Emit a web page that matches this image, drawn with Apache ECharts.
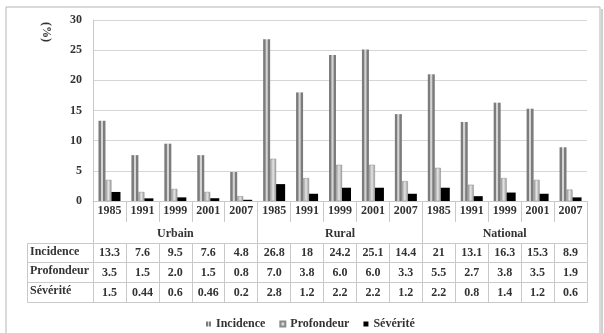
<!DOCTYPE html>
<html>
<head>
<meta charset="utf-8">
<script src="https://cdn.jsdelivr.net/npm/echarts@6/dist/echarts.min.js"></script>
<style>
    html, body { margin: 0; padding: 0; background: #fff; }
    #main { width: 604px; height: 333px; }
</style>
</head>
<body>
<div id="main"></div>
<script>
// données du graphique
var years = ['1985', '1991', '1999', '2001', '2007', '1985', '1991', '1999', '2001', '2007', '1985', '1991', '1999', '2001', '2007'];
var groups = ['Urbain', 'Rural', 'National'];
var incidence = ['13.3', '7.6', '9.5', '7.6', '4.8', '26.8', '18', '24.2', '25.1', '14.4', '21', '13.1', '16.3', '15.3', '8.9'];
var profondeur = ['3.5', '1.5', '2.0', '1.5', '0.8', '7.0', '3.8', '6.0', '6.0', '3.3', '5.5', '2.7', '3.8', '3.5', '1.9'];
var severite = ['1.5', '0.44', '0.6', '0.46', '0.2', '2.8', '1.2', '2.2', '2.2', '1.2', '2.2', '0.8', '1.4', '1.2', '0.6'];

var font = 'Liberation Serif';
var lineColor = '#c9c9c9';
var txt = { fontFamily: font, fontWeight: 'bold', fontSize: 12, color: '#333' };

// ligne du tableau (un axe par ligne)
function tableRow(data, offset, len, showLabel, margin) {
    return {
        type: 'category',
        position: 'bottom',
        data: data,
        offset: offset,
        axisLine: { show: true, lineStyle: { color: lineColor } },
        axisTick: { show: true, length: len, lineStyle: { color: lineColor } },
        axisLabel: Object.assign({ show: showLabel, margin: margin || 4, interval: 0 }, txt),
        splitLine: { show: false }
    };
}

var myChart = echarts.init(document.getElementById('main'));
var option = {
    animation: false,
    textStyle: { fontFamily: font },
    grid: { left: 93, right: 17, top: 20, bottom: 132 },
    legend: {
        left: 201,
        top: 313,
        icon: 'rect',
        itemWidth: 5,
        itemHeight: 5,
        itemGap: 14,
        textStyle: { fontFamily: font, fontWeight: 'bold', fontSize: 12, color: '#333' },
        data: ['Incidence', 'Profondeur', 'Sévérité']
    },
    xAxis: [
        tableRow(years, 0, 21, true),
        Object.assign(tableRow(groups, 21, 21, true, 6), { axisLine: { show: false } }),
        tableRow(incidence, 42, 19.5, true),
        tableRow(profondeur, 61.5, 20, true),
        tableRow(severite, 81.5, 20, true),
        Object.assign(tableRow(years, 101.5, 0, false), { axisTick: { show: false } })
    ],
    yAxis: {
        type: 'value',
        min: 0,
        max: 30,
        interval: 5,
        axisLine: { show: true, lineStyle: { color: lineColor } },
        axisTick: { show: false },
        axisLabel: Object.assign({ margin: 11 }, txt),
        splitLine: { lineStyle: { color: '#d6d6d6' } }
    },
    graphic: [
        {
            type: 'rect',
            shape: { x: 6, y: 7, width: 594, height: 340 },
            style: { fill: 'none', stroke: '#b5b5b5', lineWidth: 1 }
        },
        {
            type: 'line',
            shape: { x1: 602, y1: 9, x2: 602, y2: 333 },
            style: { stroke: '#d0d0d0', lineWidth: 2 }
        },
        {
            type: 'text',
            x: 52,
            y: 22,
            rotation: -Math.PI / 2,
            style: { text: '(%)', font: 'bold 12px "Liberation Serif"', fill: '#333' }
        },
        {
            type: 'rect',
            shape: { x: 27.5, y: 243.5, width: 66, height: 59 },
            style: { fill: 'none', stroke: lineColor, lineWidth: 1 }
        },
        { type: 'line', shape: { x1: 27.5, y1: 262.5, x2: 93, y2: 262.5 }, style: { stroke: lineColor } },
        { type: 'line', shape: { x1: 27.5, y1: 282.5, x2: 93, y2: 282.5 }, style: { stroke: lineColor } },
        { type: 'text', left: 30, top: 246, style: { text: 'Incidence', font: 'bold 12px "Liberation Serif"', fill: '#333' } },
        { type: 'text', left: 30, top: 265, style: { text: 'Profondeur', font: 'bold 12px "Liberation Serif"', fill: '#333' } },
        { type: 'text', left: 30, top: 285, style: { text: 'Sévérité', font: 'bold 12px "Liberation Serif"', fill: '#333' } }
    ],
    series: [
        {
            name: 'Incidence',
            type: 'bar',
            barWidth: 7,
            barGap: '0%',
            itemStyle: {
                color: new echarts.graphic.LinearGradient(0, 0, 1, 0, [
                    { offset: 0, color: '#7c7c7c' },
                    { offset: 0.3, color: '#7c7c7c' },
                    { offset: 0.4, color: '#d4d4d4' },
                    { offset: 0.6, color: '#d4d4d4' },
                    { offset: 0.7, color: '#7c7c7c' },
                    { offset: 1, color: '#7c7c7c' }
                ])
            },
            data: incidence.map(Number)
        },
        {
            name: 'Profondeur',
            type: 'bar',
            barWidth: 6,
            itemStyle: {
                color: new echarts.graphic.LinearGradient(0, 0, 1, 0, [
                    { offset: 0, color: '#9a9a9a' },
                    { offset: 0.3, color: '#c4c4c4' },
                    { offset: 0.5, color: '#e6e6e6' },
                    { offset: 0.7, color: '#c4c4c4' },
                    { offset: 1, color: '#9a9a9a' }
                ]),
                borderColor: '#8a8a8a',
                borderWidth: 0.5
            },
            data: profondeur.map(Number)
        },
        {
            name: 'Sévérité',
            type: 'bar',
            barWidth: 9,
            itemStyle: { color: '#000' },
            data: severite.map(Number)
        }
    ]
};
myChart.setOption(option);
</script>
</body>
</html>
